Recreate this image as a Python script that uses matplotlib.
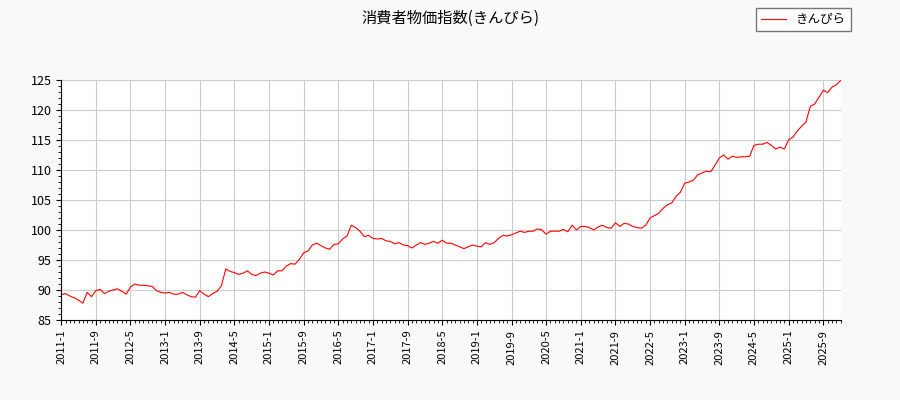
import matplotlib
matplotlib.use("Agg")
import matplotlib.pyplot as plt
from matplotlib.ticker import MultipleLocator
import numpy as np

plt.rcParams['font.family'] = ['Noto Sans CJK JP', 'DejaVu Sans']

start_year = 2011
values = [
 89.2, 89.4, 89.0, 88.7, 88.3, 87.8, 89.6, 88.9, 89.9, 90.1, 89.4, 89.8,
 90.0, 90.2, 89.8, 89.3, 90.5, 91.0, 90.8, 90.8, 90.7, 90.6, 89.9, 89.6,
 89.5, 89.6, 89.3, 89.3, 89.6, 89.2, 88.9, 88.8, 89.9, 89.3, 88.9, 89.4,
 89.8, 90.7, 93.5, 93.1, 92.9, 92.6, 92.8, 93.2, 92.6, 92.4, 92.8, 93.0,
 92.8, 92.5, 93.2, 93.2, 94.0, 94.4, 94.3, 95.1, 96.2, 96.5, 97.5, 97.8,
 97.4, 97.0, 96.8, 97.6, 97.7, 98.5, 99.0, 100.8, 100.4, 99.8, 98.9, 99.1,
 98.6, 98.5, 98.6, 98.2, 98.1, 97.7, 97.9, 97.5, 97.4, 97.0, 97.5, 97.9,
 97.6, 97.8, 98.1, 97.8, 98.3, 97.8, 97.8, 97.5, 97.2, 96.9, 97.2, 97.5,
 97.3, 97.2, 97.9, 97.6, 97.9, 98.6, 99.1, 99.0, 99.2, 99.5, 99.8, 99.6,
 99.8, 99.8, 100.2, 100.0, 99.3, 99.8, 99.8, 99.8, 100.1, 99.7, 100.8, 100.0,
 100.6, 100.6, 100.4, 100.0, 100.5, 100.8, 100.4, 100.3, 101.2, 100.6, 101.1, 101.0,
 100.6, 100.4, 100.3, 100.8, 102.0, 102.4, 102.8, 103.6, 104.2, 104.5, 105.6, 106.3,
 107.8, 108.0, 108.3, 109.2, 109.5, 109.8, 109.7, 110.8, 112.0, 112.5, 111.8, 112.3,
 112.1, 112.2, 112.2, 112.3, 114.1, 114.3, 114.3, 114.6, 114.1, 113.5, 113.8, 113.5,
 115.0, 115.5, 116.5, 117.3, 118.0, 120.6, 121.0, 122.1, 123.3, 122.9, 123.8, 124.2,
 124.9,
]
labels = [f"{start_year + i // 12}-{i % 12 + 1}" for i in range(len(values))]
x = np.arange(len(values))

fig = plt.figure(figsize=(9, 4), dpi=100, facecolor='#f9f9f9')
ax = fig.add_axes([0.068, 0.2, 0.866, 0.6])
ax.set_facecolor('white')
ax.plot(x, values, color='red', lw=0.8, label='きんぴら')
ax.set_xlim(0, len(values) - 1)
ax.set_ylim(85, 125)
ax.set_xticks(x[::8])
ax.set_xticklabels(labels[::8], rotation=90, fontsize=8)
ax.xaxis.set_minor_locator(MultipleLocator(1))
ax.yaxis.set_major_locator(MultipleLocator(5))
ax.yaxis.set_minor_locator(MultipleLocator(1))
ax.tick_params(axis='y', labelsize=9)
ax.grid(True, color='#cccccc', lw=0.8)
for s in ['top', 'right']:
    ax.spines[s].set_visible(False)
fig.suptitle('消費者物価指数(きんぴら)', x=0.5, y=0.975, fontsize=11)
fig.legend(loc='upper right', bbox_to_anchor=(0.953, 0.995), fontsize=9,
           fancybox=False, edgecolor='#555555')
fig.savefig('out.png', dpi=100, facecolor=fig.get_facecolor())
